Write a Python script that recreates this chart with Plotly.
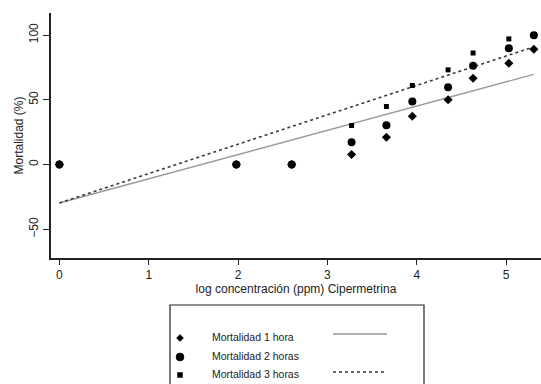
import plotly.graph_objects as go

# ---- data ----
log_conc = [0.0, 1.98, 2.60, 3.27, 3.66, 3.95, 4.35, 4.63, 5.03, 5.31]
mort_1h = [0, 0, 0, 7.7, 21.1, 37.3, 50.0, 66.6, 78.2, 89.0]
mort_2h = [0, 0, 0, 17.2, 30.3, 48.6, 59.7, 76.2, 89.8, 99.8]
mort_3h = [0, 0, 0, 30.1, 44.8, 61.0, 73.1, 86.1, 97.0, 100.0]

# fitted lines (intercept, slope)
fit_1h = (-29.7, 18.7)
fit_3h = (-29.7, 22.7)

legend_labels = ["Mortalidad 1 hora", "Mortalidad 2 horas", "Mortalidad 3 horas"]

x_ticks = [0, 1, 2, 3, 4, 5]
y_ticks = [-50, 0, 50, 100]

W, H = 541, 384
ML, MR, MT, MB = 51, 0, 13, 126
PW, PH = W - ML - MR, H - MT - MB

fig = go.Figure()

xl = [min(log_conc), max(log_conc)]
fig.add_trace(go.Scatter(x=xl, y=[fit_1h[0] + fit_1h[1] * v for v in xl], mode="lines",
                         line=dict(color="#999999", width=1.4), showlegend=False))
fig.add_trace(go.Scatter(x=xl, y=[fit_3h[0] + fit_3h[1] * v for v in xl], mode="lines",
                         line=dict(color="#3a3a3a", width=1.6, dash="dot"), showlegend=False))

fig.add_trace(go.Scatter(x=log_conc, y=mort_1h, mode="markers",
                         marker=dict(symbol="diamond", size=7, color="black"), showlegend=False))
fig.add_trace(go.Scatter(x=log_conc, y=mort_3h, mode="markers",
                         marker=dict(symbol="square", size=5, color="black"), showlegend=False))
fig.add_trace(go.Scatter(x=log_conc, y=mort_2h, mode="markers",
                         marker=dict(symbol="circle", size=8, color="black"), showlegend=False))


def px(xp):
    return (xp - ML) / PW


def py(yp):
    return (H - MB - yp) / PH


shapes = []
annotations = []
# legend box
shapes.append(dict(type="rect", xref="paper", yref="paper", x0=px(170), x1=px(424),
                   y0=py(392), y1=py(305), line=dict(color="#222", width=1.2),
                   fillcolor="rgba(0,0,0,0)"))
rows = [338, 357, 375]
# diamond
cx, cy, r = 180, rows[0], 3.5
shapes.append(dict(type="path", xref="paper", yref="paper",
                   path=f"M {px(cx)} {py(cy - r)} L {px(cx + r)} {py(cy)} L {px(cx)} {py(cy + r)} L {px(cx - r)} {py(cy)} Z",
                   fillcolor="black", line=dict(color="black", width=0.5)))
# circle
cx, cy, r = 180, rows[1], 4
shapes.append(dict(type="circle", xref="paper", yref="paper", x0=px(cx - r), x1=px(cx + r),
                   y0=py(cy + r), y1=py(cy - r), fillcolor="black", line=dict(color="black", width=0.5)))
# square
cx, cy, r = 180, rows[2], 2.5
shapes.append(dict(type="rect", xref="paper", yref="paper", x0=px(cx - r), x1=px(cx + r),
                   y0=py(cy + r), y1=py(cy - r), fillcolor="black", line=dict(color="black", width=0.5)))
# line samples
shapes.append(dict(type="line", xref="paper", yref="paper", x0=px(333), x1=px(387),
                   y0=py(334), y1=py(334), line=dict(color="#999999", width=1.4)))
shapes.append(dict(type="line", xref="paper", yref="paper", x0=px(333), x1=px(387),
                   y0=py(372), y1=py(372), line=dict(color="#3a3a3a", width=1.4, dash="dot")))
for lab, yy in zip(legend_labels, rows):
    annotations.append(dict(text=lab, xref="paper", yref="paper", x=px(210), y=py(yy - 1),
                            xanchor="left", yanchor="middle", showarrow=False,
                            font=dict(family="Liberation Sans, Arial", size=10.5, color="#222")))

fig.update_layout(
    width=W, height=H,
    margin=dict(l=ML, r=MR, t=MT, b=MB),
    plot_bgcolor="white", paper_bgcolor="white",
    font=dict(family="Liberation Sans, Arial", size=12, color="#222"),
    shapes=shapes, annotations=annotations,
    xaxis=dict(range=[-0.094, 5.39], tickvals=x_ticks, ticks="outside", ticklen=5,
               tickwidth=1.2, tickcolor="#222", showline=True, linecolor="#222", linewidth=1.5,
               showgrid=False, zeroline=False, tickfont=dict(size=12),
               title=dict(text="log concentración (ppm) Cipermetrina", standoff=2,
                          font=dict(size=12))),
    yaxis=dict(range=[-72.2, 117], tickvals=y_ticks, ticks="outside", ticklen=6,
               tickwidth=1.2, tickcolor="#222", showline=True, linecolor="#222", linewidth=1.5,
               showgrid=False, zeroline=False, tickangle=-90, tickfont=dict(size=12),
               title=dict(text="Mortalidad (%)", standoff=1, font=dict(size=12))),
)

fig.write_html("out.html", config={"displayModeBar": False},
               post_script="document.body.style.margin='0';document.body.style.overflow='hidden';")
